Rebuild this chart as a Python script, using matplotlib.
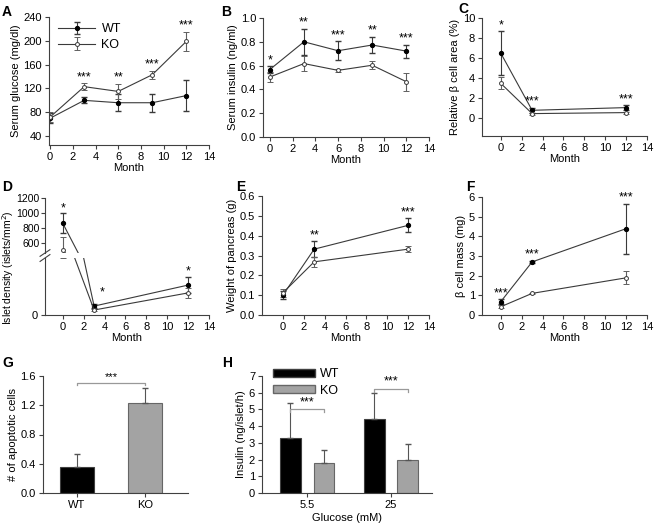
import numpy as np
import matplotlib.pyplot as plt
from matplotlib.patches import Patch

plt.rcParams['font.family'] = ['Liberation Sans', 'DejaVu Sans']
plt.rcParams['font.size'] = 8

# Panel A - serum glucose
months_A = [0, 3, 6, 9, 12]
glu_wt = [70, 100, 96, 96, 108]
glu_wt_err = [8, 5, 14, 15, 26]
glu_ko = [72, 123, 115, 143, 199]
glu_ko_err = [8, 6, 13, 7, 16]
glu_stars = ['', '***', '**', '***', '***']

# Panel B - serum insulin
months_B = [0, 3, 6, 9, 12]
ins_wt = [0.567, 0.80, 0.725, 0.773, 0.722]
ins_wt_err = [0.03, 0.11, 0.08, 0.07, 0.055]
ins_ko = [0.504, 0.617, 0.56, 0.603, 0.465]
ins_ko_err = [0.04, 0.06, 0.01, 0.035, 0.075]
ins_stars = ['*', '**', '***', '**', '***']

# Panels C-F share these months
months_CF = [0, 3, 12]
area_wt = [6.48, 0.77, 1.04]
area_wt_err = [2.2, 0.25, 0.25]
area_ko = [3.46, 0.44, 0.54]
area_ko_err = [0.6, 0.1, 0.1]
area_stars = ['*', '***', '***']

dens_wt = [860, 50, 168]
dens_wt_err = [135, 10, 45]
dens_ko = [500, 28, 124]
dens_ko_err = [180, 6, 28]
dens_stars = ['*', '*', '*']

weight_wt = [0.10, 0.332, 0.452]
weight_wt_err = [0.02, 0.04, 0.035]
weight_ko = [0.112, 0.268, 0.332]
weight_ko_err = [0.02, 0.025, 0.015]
weight_stars = ['', '**', '***']

mass_wt = [0.68, 2.7, 4.39]
mass_wt_err = [0.12, 0.05, 1.27]
mass_ko = [0.42, 1.1, 1.89]
mass_ko_err = [0.08, 0.04, 0.33]
mass_stars = ['***', '***', '***']

# Panel G - apoptotic cells
groups_G = ['WT', 'KO']
apop = [0.357, 1.234]
apop_err = [0.17, 0.2]
apop_bracket = 1.51

# Panel H - insulin secretion
glucose_labels = ['5.5', '25']
gsis_wt = [3.28, 4.41]
gsis_wt_err = [2.1, 1.55]
gsis_ko = [1.79, 1.95]
gsis_ko_err = [0.8, 0.97]
gsis_bracket = [5.0, 6.22]

W, H = 657, 525
fig = plt.figure(figsize=(W / 100, H / 100), dpi=100)

LINE = '#3a3a3a'
SPINE = '#404040'
KO_GREY = '#a3a3a3'


def add_ax(l, t, r, b):
    ax = fig.add_axes([l / W, 1 - b / H, (r - l) / W, (b - t) / H])
    for s in ['top', 'right']:
        ax.spines[s].set_visible(False)
    for s in ['left', 'bottom']:
        ax.spines[s].set_color(SPINE)
        ax.spines[s].set_linewidth(0.8)
    ax.tick_params(length=3, width=0.8, color=SPINE, pad=2, labelsize=8)
    return ax


def plot_pair(ax, x, wt, wt_err, ko, ko_err):
    ax.errorbar(x, wt, yerr=wt_err, color=LINE, lw=0.8, marker='o', ms=2.8,
                mfc='black', mec='black', capsize=2, elinewidth=0.8,
                ecolor=LINE, label='WT')
    ax.errorbar(x, ko, yerr=ko_err, color=LINE, lw=0.8, marker='o', ms=2.8,
                mfc='white', mec=LINE, mew=0.7, capsize=2, elinewidth=0.8,
                ecolor='#606060', label='KO')


def add_stars(ax, x, wt, wt_err, ko, ko_err, stars, dy=0):
    for xi, a, ae, b, be, s in zip(x, wt, wt_err, ko, ko_err, stars):
        if s:
            top = max(a + ae, b + be)
            ax.annotate(s, (xi, top), xytext=(0, dy), textcoords='offset points',
                        ha='center', va='bottom', fontsize=9)


def month_axis(ax, left):
    ax.set_xlim(left, 14)
    ax.set_xticks(range(0, 15, 2))
    ax.set_xlabel('Month', labelpad=1)


# A
axA = add_ax(49, 17, 209, 145)
plot_pair(axA, months_A, glu_wt, glu_wt_err, glu_ko, glu_ko_err)
add_stars(axA, months_A, glu_wt, glu_wt_err, glu_ko, glu_ko_err, glu_stars)
axA.set_ylim(25, 240)
axA.set_yticks(range(40, 241, 40))
month_axis(axA, -0.1)
axA.set_ylabel('Serum glucose (mg/dl)', labelpad=2)
axA.legend(loc='upper left', bbox_to_anchor=(0.0, 1.02), frameon=False,
           handlelength=3, fontsize=9, borderpad=0.2, labelspacing=0.3,
           handletextpad=0.5)

# B
axB = add_ax(263, 18, 429, 137)
plot_pair(axB, months_B, ins_wt, ins_wt_err, ins_ko, ins_ko_err)
add_stars(axB, months_B, ins_wt, ins_wt_err, ins_ko, ins_ko_err, ins_stars)
axB.set_ylim(0, 1.0)
axB.set_yticks(np.arange(0, 1.01, 0.2))
axB.set_yticklabels([f'{v:.1f}' for v in np.arange(0, 1.01, 0.2)])
month_axis(axB, -0.6)
axB.set_ylabel('Serum insulin (ng/ml)', labelpad=2)

# C
axC = add_ax(482, 18, 647, 136)
plot_pair(axC, months_CF, area_wt, area_wt_err, area_ko, area_ko_err)
add_stars(axC, months_CF, area_wt, area_wt_err, area_ko, area_ko_err, area_stars)
axC.set_ylim(-1.8, 10)
axC.set_yticks(range(0, 11, 2))
month_axis(axC, -1.8)
axC.set_ylabel('Relative β cell area (%)', labelpad=2)

# D - broken y axis
axDu = add_ax(45, 198, 209, 253)
axDl = add_ax(45, 258, 209, 315)
for ax in (axDu, axDl):
    plot_pair(ax, months_CF, dens_wt, dens_wt_err, dens_ko, dens_ko_err)
    ax.set_xlim(-1.7, 14)
axDu.set_ylim(460, 1200)
axDu.set_yticks([600, 800, 1000, 1200])
axDu.spines['bottom'].set_visible(False)
axDu.tick_params(axis='x', bottom=False, labelbottom=False)
axDu.tick_params(axis='y', pad=1, labelsize=7.5)
axDl.set_ylim(0, 320)
axDl.set_yticks([0])
axDl.set_xticks(range(0, 15, 2))
axDl.set_xlabel('Month', labelpad=1)
for xi, a, ae, b, be, s in zip(months_CF, dens_wt, dens_wt_err, dens_ko, dens_ko_err, dens_stars):
    top = max(a + ae, b + be)
    if top > 460:
        axDu.annotate(s, (xi, top), xytext=(0, -1), textcoords='offset points',
                      ha='center', va='bottom', fontsize=9)
    elif xi == 3:
        axDl.annotate(s, (xi, top), xytext=(6, 4), textcoords='offset points',
                      ha='center', va='bottom', fontsize=9)
    else:
        axDl.annotate(s, (xi, top), xytext=(0, 0), textcoords='offset points',
                      ha='center', va='bottom', fontsize=9)
# break marks
for ax, yy in ((axDu, 0.0), (axDl, 1.0)):
    ax.plot([-0.03, 0.03], [yy - 0.06, yy + 0.06], transform=ax.transAxes,
            color=SPINE, lw=0.8, clip_on=False)
fig.text(8 / W, 1 - 268 / H, 'Islet density (islets/mm$^2$)', rotation=90,
         ha='center', va='center', fontsize=7.5)

# E
axE = add_ax(262, 196, 429, 315)
plot_pair(axE, months_CF, weight_wt, weight_wt_err, weight_ko, weight_ko_err)
add_stars(axE, months_CF, weight_wt, weight_wt_err, weight_ko, weight_ko_err, weight_stars)
axE.set_ylim(0, 0.6)
axE.set_yticks(np.arange(0, 0.61, 0.1))
axE.set_yticklabels([f'{v:.1f}' for v in np.arange(0, 0.61, 0.1)])
month_axis(axE, -2.0)
axE.set_ylabel('Weight of pancreas (g)', labelpad=2)

# F
axF = add_ax(482, 197, 647, 315)
plot_pair(axF, months_CF, mass_wt, mass_wt_err, mass_ko, mass_ko_err)
add_stars(axF, months_CF, mass_wt, mass_wt_err, mass_ko, mass_ko_err, mass_stars)
axF.set_ylim(0, 6)
axF.set_yticks(range(0, 7))
month_axis(axF, -1.8)
axF.set_ylabel('β cell mass (mg)', labelpad=2)

# G
axG = add_ax(43, 376, 188, 493)
xg = np.arange(len(groups_G))
axG.bar(xg, apop, width=0.5, color=['black', KO_GREY], edgecolor=[SPINE, '#666666'],
        linewidth=0.8)
axG.errorbar(xg, apop, yerr=[np.zeros(len(apop)), apop_err], fmt='none',
             ecolor='#555555', elinewidth=0.8, capsize=2.5)
axG.set_xlim(-0.5, 1.63)
axG.set_ylim(0, 1.6)
axG.set_xticks(xg)
axG.set_xticklabels(groups_G)
axG.set_yticks(np.arange(0, 1.61, 0.4))
axG.set_yticklabels([f'{v:.1f}' for v in np.arange(0, 1.61, 0.4)])
axG.set_ylabel('# of apoptotic cells', labelpad=2)
axG.plot([xg[0], xg[0], xg[1], xg[1]],
         [apop_bracket - 0.03, apop_bracket, apop_bracket, apop_bracket - 0.03],
         color='#999999', lw=0.9)
axG.text(xg.mean(), apop_bracket + 0.01, '***', ha='center', va='bottom', fontsize=8)

# H
axH = add_ax(262, 376, 432, 493)
xh = np.arange(len(glucose_labels))
off = 0.2
axH.bar(xh - off, gsis_wt, width=0.25, color='black', edgecolor=SPINE,
        linewidth=0.8, label='WT')
axH.bar(xh + off, gsis_ko, width=0.25, color=KO_GREY, edgecolor='#666666',
        linewidth=0.8, label='KO')
axH.errorbar(xh - off, gsis_wt, yerr=[np.zeros(2), gsis_wt_err], fmt='none',
             ecolor='#555555', elinewidth=0.8, capsize=2.5)
axH.errorbar(xh + off, gsis_ko, yerr=[np.zeros(2), gsis_ko_err], fmt='none',
             ecolor='#555555', elinewidth=0.8, capsize=2.5)
axH.set_xlim(-0.54, 1.49)
axH.set_ylim(0, 7)
axH.set_xticks(xh)
axH.set_xticklabels(glucose_labels)
axH.set_yticks(range(0, 8))
axH.set_xlabel('Glucose (mM)', labelpad=2)
axH.set_ylabel('Insulin (ng/islet/h)', labelpad=2)
for xi, yb in zip(xh, gsis_bracket):
    axH.plot([xi - off, xi - off, xi + off, xi + off],
             [yb - 0.15, yb, yb, yb - 0.15], color='#999999', lw=0.9)
    axH.text(xi, yb + 0.08, '***', ha='center', va='bottom', fontsize=9)
axH.legend(handles=[Patch(facecolor='black', edgecolor=SPINE, label='WT'),
                    Patch(facecolor=KO_GREY, edgecolor='#666666', label='KO')],
           loc='upper left', bbox_to_anchor=(0.02, 1.13), frameon=False,
           handlelength=3.4, handleheight=0.6, fontsize=9, labelspacing=0.35,
           handletextpad=0.4, borderpad=0.1)

# panel letters
letters = {'A': (2, 5), 'B': (221, 5), 'C': (458, 2), 'D': (2, 180),
           'E': (236, 180), 'F': (466, 180), 'G': (2, 356), 'H': (222, 356)}
for k, (x, y) in letters.items():
    fig.text(x / W, 1 - y / H, k, fontsize=10, fontweight='bold',
             ha='left', va='top')

fig.savefig('out.png', dpi=100)
